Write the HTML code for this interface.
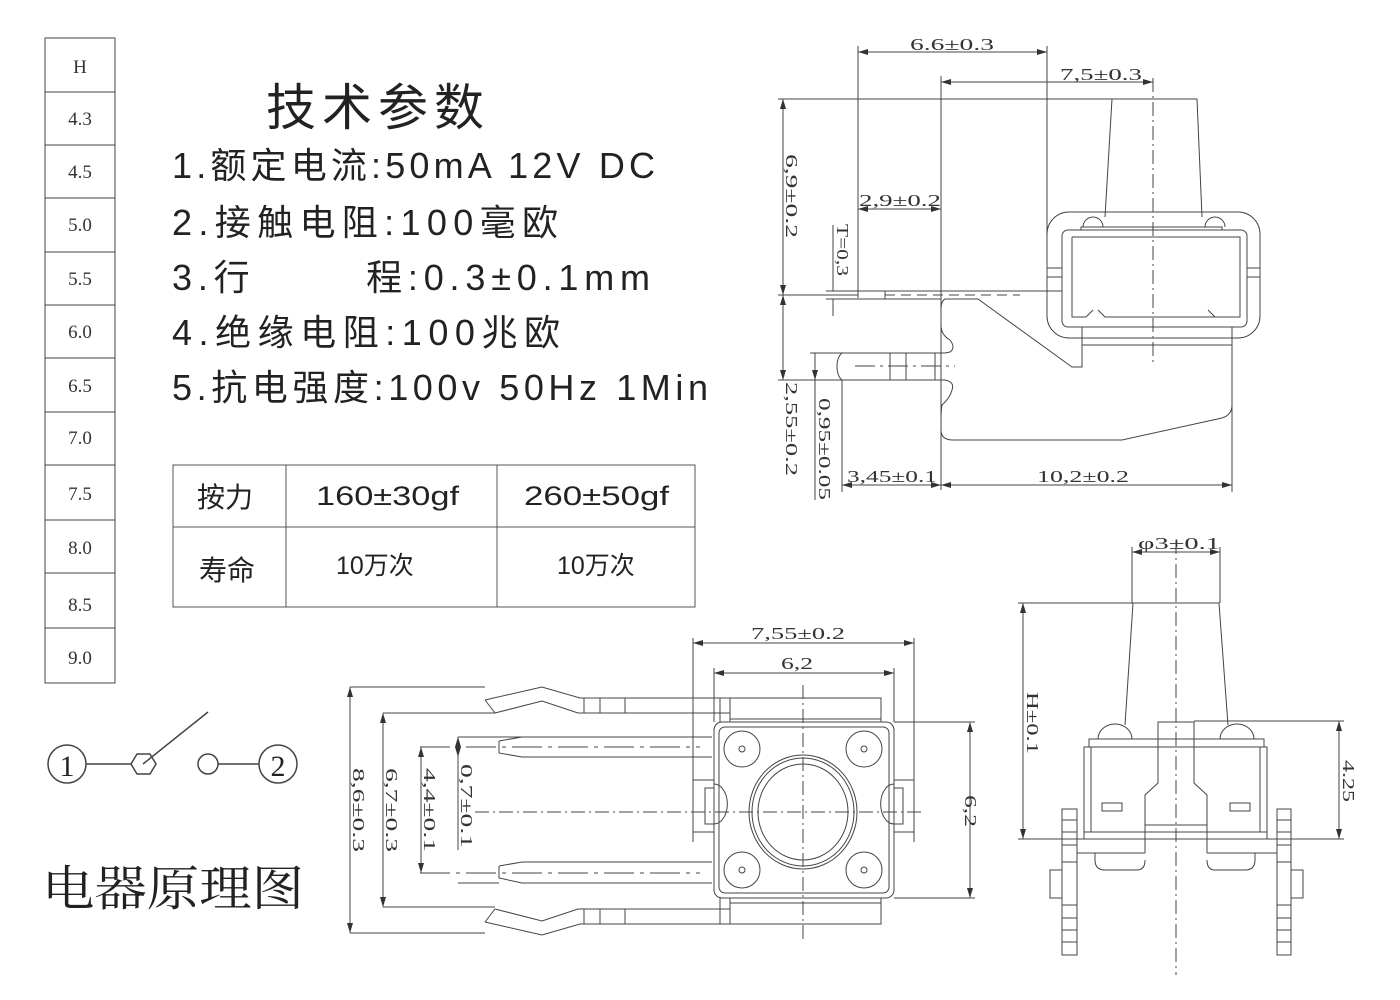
<!DOCTYPE html>
<html><head><meta charset="utf-8"><style>
html,body{margin:0;padding:0;background:#fff;}
svg{display:block;}
.s{font-family:"Liberation Sans","Noto Sans CJK SC",sans-serif;fill:#222;}
.d{font-family:"Liberation Serif","Noto Serif CJK SC",serif;fill:#333;}
</style></head><body>
<svg width="1400" height="1000" viewBox="0 0 1400 1000" xmlns="http://www.w3.org/2000/svg">
<defs>
<marker id="a" viewBox="0 0 10 6" refX="10" refY="3" markerWidth="10" markerHeight="6" orient="auto-start-reverse" markerUnits="userSpaceOnUse"><path d="M0,0 L10,3 L0,6z" fill="#333"/></marker>
</defs>
<g fill="none" stroke="#444" stroke-width="1">
<rect x="45" y="38" width="70" height="645"/>
<path d="M45,92H115M45,145H115M45,198H115M45,252H115M45,305H115M45,358H115M45,412H115M45,465H115M45,520H115M45,573H115M45,628H115"/>
<rect x="173" y="465" width="522" height="142" stroke="#555"/>
<path d="M173,527H695M286,465V607M497,465V607" stroke="#555"/>
<circle cx="67" cy="764" r="19" stroke-width="1.5"/>
<circle cx="278" cy="764" r="19" stroke-width="1.5"/>
<path d="M86,764H132M218,764H259M143,764L208,712" stroke-width="1.5"/>
<polygon points="137,754 150,754 156,764 150,774 137,774 131,764" stroke-width="1.5"/>
<circle cx="208" cy="764" r="10" stroke-width="1.5"/>
</g>
<g class="d" text-anchor="middle" style="font-size:19px">
<text x="80" y="73">H</text><text x="80" y="125">4.3</text><text x="80" y="178">4.5</text><text x="80" y="231">5.0</text><text x="80" y="285">5.5</text><text x="80" y="338">6.0</text><text x="80" y="392">6.5</text><text x="80" y="444">7.0</text><text x="80" y="500">7.5</text><text x="80" y="554">8.0</text><text x="80" y="611">8.5</text><text x="80" y="664">9.0</text>
</g>
<g class="s">
<text x="266" y="125" font-size="50" textLength="218">技术参数</text>
<text x="172" y="178" font-size="36" textLength="483">1.额定电流:50mA 12V DC</text>
<text x="172" y="235" font-size="36" textLength="386">2.接触电阻:100毫欧</text>
<text x="172" y="290" font-size="36" textLength="478">3.行&#160;&#160;&#160;&#160;&#160;&#160;&#160;程:0.3±0.1mm</text>
<text x="172" y="345" font-size="36" textLength="388">4.绝缘电阻:100兆欧</text>
<text x="172" y="400" font-size="36" textLength="536">5.抗电强度:100v 50Hz 1Min</text>
<text x="197" y="507" font-size="28">按力</text>
<text x="316" y="505" font-size="27" textLength="143" lengthAdjust="spacingAndGlyphs">160±30gf</text>
<text x="524" y="505" font-size="27" textLength="145" lengthAdjust="spacingAndGlyphs">260±50gf</text>
<text x="199" y="580" font-size="28">寿命</text>
<text x="336" y="574" font-size="25">10万次</text>
<text x="557" y="574" font-size="25">10万次</text>
<text x="42" y="905" font-size="48" textLength="262" lengthAdjust="spacingAndGlyphs" font-family="Liberation Serif,Noto Serif CJK SC,serif">电器原理图</text>
<text x="67" y="776" font-size="30" text-anchor="middle" font-family="Liberation Serif,serif">1</text>
<text x="278" y="776" font-size="30" text-anchor="middle" font-family="Liberation Serif,serif">2</text>
</g>

<g fill="none" stroke="#444" stroke-width="1">
<path d="M858,52H1047" marker-start="url(#a)" marker-end="url(#a)"/>
<path d="M858,46V298M1047,46V275"/>
<path d="M941,82H1153" marker-start="url(#a)" marker-end="url(#a)"/>
<path d="M941,76V490"/>
<path d="M1153,78V365" stroke-dasharray="14,4,2,4"/>
<path d="M778,99H1195"/>
<path d="M783,99V295" marker-start="url(#a)" marker-end="url(#a)"/>
<path d="M858,209H941" marker-start="url(#a)" marker-end="url(#a)"/>
<path d="M833,225V291M833,299V316"/>
<path d="M778,295H858M826,291H858M826,299H858"/>
<path d="M783,295V380" marker-start="url(#a)" marker-end="url(#a)"/>
<path d="M778,380H842M810,353H842"/>
<path d="M815,353V380" marker-end="url(#a)"/>
<path d="M815,380V500"/>
<path d="M842,380V492"/>
<path d="M842,485H941" marker-start="url(#a)" marker-end="url(#a)"/>
<path d="M941,485H1232" marker-start="url(#a)" marker-end="url(#a)"/>
<path d="M1232,345V492"/>
<path d="M1112,99H1197L1202,217M1112,99L1105,217"/>
<rect x="1047" y="212" width="213" height="126" rx="22"/>
<rect x="1062" y="230" width="185" height="97" rx="6"/>
<path d="M1072,237H1240V317H1105L1098,310M1072,237V317H1086L1093,310M1240,317H1215L1208,310"/>
<path d="M1081,230V227H1222V230"/>
<path d="M1083,227A10,10 0 0 1 1103,227M1205,227A10,10 0 0 1 1225,227"/>
<path d="M1082,327V345H1232V327"/>
<path d="M1047,268H1062M1047,277H1062M1247,268H1260M1247,277H1260"/>
<path d="M858,291H1062M858,299H941"/>
<path d="M885,295H1020" stroke-dasharray="10,6"/>
<path d="M885,291V299"/>
<path d="M945,299H978L1072,367H1082V345"/>
<path d="M945,299Q941,301 941,310V325Q941,335 950,340Q956,348 950,352L945,353H842Q837,357 837,366Q837,376 842,380H945Q955,382 952,390Q950,398 942,405Q941,410 941,420V430Q941,440 953,440H1122L1222,418Q1232,415 1232,405V345"/>
<path d="M890,353V380M906,353V380M935,353V380"/>
<path d="M855,366H955" stroke-dasharray="20,5,3,5"/>
</g>
<g class="d" style="font-size:17px">
<text x="910" y="50" textLength="84" lengthAdjust="spacingAndGlyphs">6.6±0.3</text>
<text x="1060" y="80" textLength="82" lengthAdjust="spacingAndGlyphs">7,5±0.3</text>
<text x="859" y="206" textLength="82" lengthAdjust="spacingAndGlyphs">2,9±0.2</text>
<text x="847" y="482" textLength="90" lengthAdjust="spacingAndGlyphs">3,45±0.1</text>
<text x="1037" y="482" textLength="92" lengthAdjust="spacingAndGlyphs">10,2±0.2</text>
<text transform="translate(786,154) rotate(90)" textLength="84" lengthAdjust="spacingAndGlyphs">6,9±0.2</text>
<text transform="translate(837,224) rotate(90)" textLength="52" lengthAdjust="spacingAndGlyphs">T=0,3</text>
<text transform="translate(786,382) rotate(90)" textLength="94" lengthAdjust="spacingAndGlyphs">2,55±0.2</text>
<text transform="translate(819,398) rotate(90)" textLength="102" lengthAdjust="spacingAndGlyphs">0,95±0.05</text>
</g>

<g fill="none" stroke="#444" stroke-width="1">
<path d="M693,643H914" marker-start="url(#a)" marker-end="url(#a)"/>
<path d="M693,638V842M914,638V842"/>
<path d="M714,673H894" marker-start="url(#a)" marker-end="url(#a)"/>
<path d="M714,668V722M894,668V722"/>
<path d="M894,722H975M894,898H975"/>
<path d="M970,722V898" marker-start="url(#a)" marker-end="url(#a)"/>
<path d="M803,685V940" stroke-dasharray="14,4,2,4"/>
<path d="M475,812H925" stroke-dasharray="14,4,2,4"/>
<rect x="714" y="722" width="180" height="176" rx="8"/>
<rect x="719" y="727" width="170" height="166" rx="6"/>
<circle cx="742" cy="749" r="18"/><circle cx="864" cy="749" r="18"/><circle cx="742" cy="870" r="18"/><circle cx="864" cy="870" r="18"/>
<circle cx="742" cy="749" r="3"/><circle cx="864" cy="749" r="3"/><circle cx="742" cy="870" r="3"/><circle cx="864" cy="870" r="3"/>
<ellipse cx="803" cy="812" rx="54" ry="57"/>
<ellipse cx="803" cy="812" rx="51" ry="54"/>
<ellipse cx="803" cy="812" rx="45" ry="48"/>
<path d="M714,780H693V832H714M714,788H705V824H714"/>
<path d="M714,792A12,18 0 0 1 714,832" transform="translate(0,-8)"/>
<path d="M894,780H914V832H894M894,788H903V824H894"/>
<path d="M894,792A12,18 0 0 0 894,832" transform="translate(0,-8)"/>
<path d="M485,700L542,687L580,698H881V722M495,713L542,701L578,713H730V722M485,700L495,713"/>
<path d="M584,698V713M600,698V713M625,698V713M720,698V722M730,698V713M730,719H881"/>
<path d="M485,922L542,935L580,924H881V898M495,909L542,921L578,909H730V898M485,922L495,909"/>
<path d="M584,909V924M600,909V924M625,909V924M720,898V924M730,909V924M730,903H881"/>
<path d="M458,737H712M499,741L522,737M499,741V753L522,757H712"/>
<path d="M420,747H700" stroke-dasharray="30,6,4,6"/>
<path d="M499,866L522,862H712M499,866V878L522,883H712M458,883H499"/>
<path d="M420,873H700" stroke-dasharray="30,6,4,6"/>
<path d="M350,687H485M350,933H485"/>
<path d="M350,687V933" marker-start="url(#a)" marker-end="url(#a)"/>
<path d="M383,713H495M383,907H495"/>
<path d="M383,713V907" marker-start="url(#a)" marker-end="url(#a)"/>
<path d="M421,747V873" marker-start="url(#a)" marker-end="url(#a)"/>
<path d="M458,737V757" marker-start="url(#a)" marker-end="url(#a)"/>
<path d="M458,757V850"/>
</g>
<g class="d" style="font-size:17px">
<text x="751" y="639" textLength="94" lengthAdjust="spacingAndGlyphs">7,55±0.2</text>
<text x="781" y="669" textLength="32" lengthAdjust="spacingAndGlyphs">6,2</text>
<text transform="translate(965,795) rotate(90)" textLength="32" lengthAdjust="spacingAndGlyphs">6,2</text>
<text transform="translate(353,768) rotate(90)" textLength="84" lengthAdjust="spacingAndGlyphs">8,6±0.3</text>
<text transform="translate(386,768) rotate(90)" textLength="84" lengthAdjust="spacingAndGlyphs">6,7±0.3</text>
<text transform="translate(424,768) rotate(90)" textLength="84" lengthAdjust="spacingAndGlyphs">4,4±0.1</text>
<text transform="translate(461,764) rotate(90)" textLength="84" lengthAdjust="spacingAndGlyphs">0,7±0.1</text>
</g>

<g fill="none" stroke="#444" stroke-width="1">
<path d="M1132,552H1220" marker-start="url(#a)" marker-end="url(#a)"/>
<path d="M1132,547V603M1220,547V603"/>
<path d="M1018,603H1133M1018,839H1084M1194,721H1344M1277,839H1344"/>
<path d="M1023,603V839" marker-start="url(#a)" marker-end="url(#a)"/>
<path d="M1339,721V839" marker-start="url(#a)" marker-end="url(#a)"/>
<path d="M1176,540V975" stroke-dasharray="14,4,2,4"/>
<path d="M1133,603H1219L1228,725M1133,603L1125,725"/>
<path d="M1098,739A17,15 0 0 1 1132,739M1220,739A17,15 0 0 1 1254,739"/>
<path d="M1089,739H1264V747H1089Z"/>
<path d="M1158,747V722H1194V747"/>
<path d="M1084,747H1267V832H1084Z M1091,747V832M1260,747V832"/>
<path d="M1158,747V783L1145,795V853M1194,747V783L1207,795V853"/>
<path d="M1145,825H1207"/>
<rect x="1102" y="803" width="20" height="8"/><rect x="1230" y="803" width="20" height="8"/>
<path d="M1084,832V839H1267V832"/>
<path d="M1077,839H1277M1077,853H1145M1207,853H1277"/>
<path d="M1095,853V860Q1095,870 1105,870H1137Q1145,870 1145,860M1207,860Q1207,870 1215,870H1245Q1255,870 1255,860V853"/>
<path d="M1062,809H1077V955H1062Z M1277,809H1291V955H1277Z"/>
<path d="M1062,820H1077M1062,832H1077M1062,845H1077M1062,862H1077M1062,905H1077M1062,918H1077M1062,930H1077M1062,942H1077"/>
<path d="M1277,820H1291M1277,832H1291M1277,845H1291M1277,862H1291M1277,905H1291M1277,918H1291M1277,930H1291M1277,942H1291"/>
<rect x="1050" y="870" width="12" height="28"/><rect x="1291" y="870" width="12" height="28"/>
</g>
<g class="d" style="font-size:17px">
<text x="1138" y="549" textLength="82" lengthAdjust="spacingAndGlyphs">φ3±0.1</text>
<text transform="translate(1027,692) rotate(90)" textLength="62" lengthAdjust="spacingAndGlyphs">H±0.1</text>
<text transform="translate(1343,760) rotate(90)" textLength="42" lengthAdjust="spacingAndGlyphs">4.25</text>
</g>
</svg>
</body></html>
